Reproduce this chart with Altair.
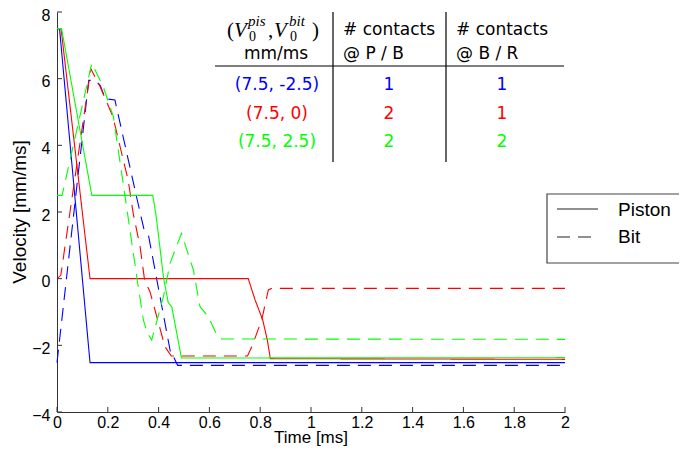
import altair as alt
import pandas as pd

# ---------------- data ----------------
blue_piston_t = [0, 0.01, 0.13, 2.0]
blue_piston_v = [7.5, 7.5, -2.52, -2.52]
blue_bit_t = [0, 0.125, 0.15, 0.17, 0.19, 0.228, 0.316, 0.343, 0.36, 0.45, 0.46, 0.475, 2.0]
blue_bit_v = [-2.52, 5.95, 5.95, 5.8, 5.4, 5.36, 2.36, 1.46, 1.31, -2.34, -2.36, -2.6, -2.6]

red_piston_t = [0, 0.016, 0.13, 0.753, 0.78, 0.81, 0.828, 0.84, 2.0]
red_piston_v = [7.5, 7.5, 0, 0, -0.64, -1.24, -1.84, -2.4, -2.42]
red_bit_t = [0, 0.015, 0.133, 0.17, 0.22, 0.28, 0.30, 0.327, 0.345, 0.366, 0.425, 0.45, 0.75,
             0.767, 0.806, 0.832, 0.846, 2.0]
red_bit_v = [0, 0.1, 6.3, 5.76, 4.86, 2.96, 1.96, 0.96, -0.05, -0.39, -2.04, -2.32, -2.32,
             -2.04, -1.24, -0.34, -0.29, -0.29]

green_piston_t = [0, 0.018, 0.137, 0.377, 0.39, 0.42, 0.438, 0.452, 0.49, 2.0]
green_piston_v = [7.5, 7.5, 2.5, 2.5, 1.9, 0.0, -0.72, -0.85, -2.38, -2.37]
green_bit_t = [0, 0.02, 0.137, 0.182, 0.222, 0.316, 0.34, 0.356, 0.373, 0.419, 0.445, 0.49,
               0.537, 0.563, 0.596, 0.629, 0.648, 2.0]
green_bit_v = [2.5, 2.5, 6.46, 5.76, 4.86, -0.04, -1.24, -1.64, -1.84, -0.54, 0.46, 1.36,
               0.26, -0.84, -1.14, -1.69, -1.81, -1.82]

case_names = ["blue", "red", "green"]
case_colors = ["#0000ff", "#ff0000", "#00ff00"]
kinds = ["Piston", "Bit"]

x_ticks = [0, 0.2, 0.4, 0.6, 0.8, 1, 1.2, 1.4, 1.6, 1.8, 2]
y_ticks = [-4, -2, 0, 2, 4, 6, 8]

table_pairs = ["(7.5, -2.5)", "(7.5, 0)", "(7.5, 2.5)"]
contacts_pb = ["1", "2", "2"]
contacts_br = ["1", "1", "2"]

series = [
    ("blue", "Piston", blue_piston_t, blue_piston_v),
    ("blue", "Bit", blue_bit_t, blue_bit_v),
    ("red", "Piston", red_piston_t, red_piston_v),
    ("red", "Bit", red_bit_t, red_bit_v),
    ("green", "Piston", green_piston_t, green_piston_v),
    ("green", "Bit", green_bit_t, green_bit_v),
]
rows = []
for case, kind, ts, vs in series:
    for t, v in zip(ts, vs):
        rows.append({"t": t, "v": v, "case": case, "kind": kind, "key": case + "-" + kind})
df = pd.DataFrame(rows)

# ---------------- layout ----------------
W, H = 508, 400
AX = "#333333"
AXF = "Liberation Sans"
TF = "DejaVu Sans"
SERIF = "Liberation Serif"
DASH = [13, 8]

xs = alt.Scale(domain=[0, 2], nice=False, zero=False)
ys = alt.Scale(domain=[-4, 8], nice=False, zero=False)
x_axis = alt.Axis(values=x_ticks, format="~g", title=None, grid=False, tickSize=0,
                  domainColor=AX, domainWidth=1, labelFont=AXF, labelFontSize=16,
                  labelColor="black", labelPadding=2, labelFlush=False, labelOverlap=False)
y_axis = alt.Axis(values=y_ticks, format="~g", title=None, grid=False, tickSize=0,
                  domainColor=AX, domainWidth=1, labelFont=AXF, labelFontSize=16,
                  labelColor="black", labelPadding=7, labelOffset=3, labelFlush=False,
                  labelOverlap=False)

lines = alt.Chart(df).mark_line(strokeWidth=1.1).encode(
    x=alt.X("t:Q", scale=xs, axis=x_axis),
    y=alt.Y("v:Q", scale=ys, axis=y_axis),
    color=alt.Color("case:N", scale=alt.Scale(domain=case_names, range=case_colors), legend=None),
    strokeDash=alt.StrokeDash("kind:N", scale=alt.Scale(domain=kinds, range=[[1, 0], DASH]),
                              legend=None),
    detail="key:N",
)

xtick = alt.Chart(pd.DataFrame({"t": x_ticks})).mark_rule(color=AX, strokeWidth=1).encode(
    x=alt.X("t:Q", scale=xs, axis=x_axis), y=alt.value(H), y2=alt.value(H - 5))
ytick = alt.Chart(pd.DataFrame({"v": y_ticks})).mark_rule(color=AX, strokeWidth=1).encode(
    y=alt.Y("v:Q", scale=ys, axis=y_axis), x=alt.value(0), x2=alt.value(5))

one = pd.DataFrame({"_": [0]})


def txt(s, x, y, size, color="black", font=TF, style="normal", align="center",
        baseline="middle", angle=0):
    return alt.Chart(one).mark_text(text=s, fontSize=size, font=font, fontStyle=style,
                                    align=align, baseline=baseline, color=color,
                                    angle=angle).encode(x=alt.value(x), y=alt.value(y))


def hrule(x1, x2, y, color="black", width=1.2, dash=None):
    kw = dict(color=color, strokeWidth=width)
    if dash:
        kw["strokeDash"] = dash
    return alt.Chart(one).mark_rule(**kw).encode(x=alt.value(x1), x2=alt.value(x2), y=alt.value(y))


def vrule(x, y1, y2, color="black", width=1.2):
    return alt.Chart(one).mark_rule(color=color, strokeWidth=width).encode(
        x=alt.value(x), y=alt.value(y1), y2=alt.value(y2))


layers = [lines, xtick, ytick]

# axis titles
layers.append(txt("Velocity [mm/ms]", -37, 200, 19, font=AXF, angle=270))
layers.append(txt("Time [ms]", 254, 426, 17, font=AXF))

# table rules
layers.append(hrule(158, 507, 54))
layers.append(vrule(276, 0, 150))
layers.append(vrule(389, 0, 150))

# table header, column 1: (V_0^pis, V_0^bit) / mm/ms
layers.append(txt("(", 170, 25, 21, font=SERIF, align="left", baseline="alphabetic"))
layers.append(txt("V", 177, 25, 21, font=SERIF, style="italic", align="left", baseline="alphabetic"))
layers.append(txt("pis", 191, 14, 15, font=SERIF, style="italic", align="left", baseline="alphabetic"))
layers.append(txt("0", 192, 29, 14, font=SERIF, align="left", baseline="alphabetic"))
layers.append(txt(",", 211, 25, 21, font=SERIF, align="left", baseline="alphabetic"))
layers.append(txt("V", 217, 25, 21, font=SERIF, style="italic", align="left", baseline="alphabetic"))
layers.append(txt("bit", 232, 14, 15, font=SERIF, style="italic", align="left", baseline="alphabetic"))
layers.append(txt("0", 233, 29, 14, font=SERIF, align="left", baseline="alphabetic"))
layers.append(txt(")", 255, 25, 21, font=SERIF, align="left", baseline="alphabetic"))
layers.append(txt("mm/ms", 219, 42, 17))

# table header, columns 2 and 3
layers.append(txt("# contacts", 286, 18, 17, align="left"))
layers.append(txt("@  P / B", 286, 42, 17, align="left"))
layers.append(txt("# contacts", 399, 18, 17, align="left"))
layers.append(txt("@  B / R", 399, 42, 17, align="left"))

# table body
row_y = [73, 102, 130]
for i in range(3):
    c = case_colors[i]
    layers.append(txt(table_pairs[i], 220, row_y[i], 17, color=c))
    layers.append(txt(contacts_pb[i], 332, row_y[i], 17, color=c))
    layers.append(txt(contacts_br[i], 445, row_y[i], 17, color=c))

# legend
layers.append(alt.Chart(one).mark_rect(fill="white", stroke="#444444", strokeWidth=1.2).encode(
    x=alt.value(490), x2=alt.value(645), y=alt.value(182), y2=alt.value(251)))
layers.append(hrule(500, 541, 197, color="#222222", width=1.1))
layers.append(hrule(500, 541, 225, color="#222222", width=1.1, dash=DASH))
layers.append(txt("Piston", 561, 198, 19, font=AXF, align="left"))
layers.append(txt("Bit", 561, 225, 19, font=AXF, align="left"))

chart = alt.layer(*layers).properties(
    width=W, height=H,
    autosize=alt.AutoSizeParams(type="none"),
    padding={"left": 49, "top": 4, "right": 114, "bottom": 34},
).configure_view(stroke=None)

chart.save("out.html", embed_options={"renderer": "svg", "actions": False})
